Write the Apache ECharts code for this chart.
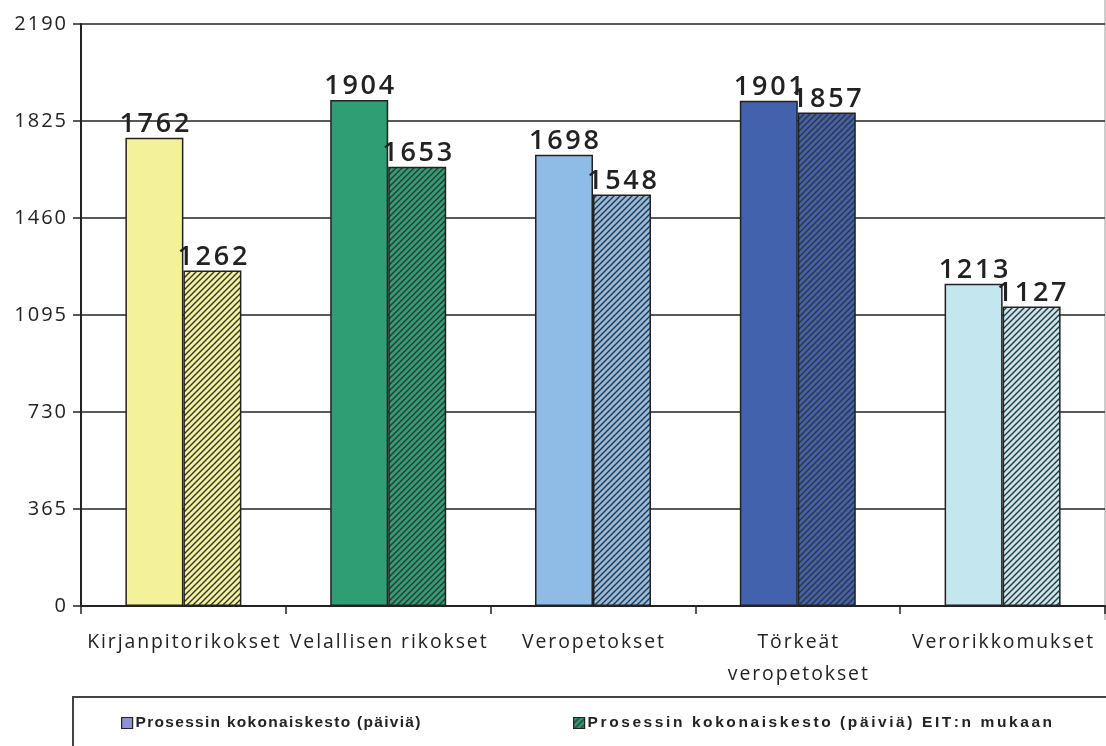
<!DOCTYPE html>
<html>
<head>
<meta charset="utf-8">
<script src="https://cdn.jsdelivr.net/npm/echarts@6/dist/echarts.min.js"></script>
<style>
  html, body { margin: 0; padding: 0; background: #ffffff; }
  #main { width: 1106px; height: 746px; }
</style>
</head>
<body>
<div id="main"></div>
<script>
// 数据
const categories = ['Kirjanpitorikokset', 'Velallisen rikokset', 'Veropetokset', 'Törkeät\nveropetokset', 'Verorikkomukset'];
const seriesNames = ['Prosessin kokonaiskesto (päiviä)', 'Prosessin kokonaiskesto (päiviä) EIT:n mukaan'];
const totalDays = [1762, 1904, 1698, 1901, 1213];
const eitDays = [1262, 1653, 1548, 1857, 1127];
const yMin = 0;
const yMax = 2190;
const yStep = 365;
const barColors = ['#f3f29a', '#2f9e74', '#8ebce6', '#4262ae', '#c4e6ef'];

// 斜线填充
const hatch = (base) => {
  const c = document.createElement('canvas');
  c.width = 6;
  c.height = 6;
  const ctx = c.getContext('2d');
  ctx.fillStyle = base;
  ctx.fillRect(0, 0, 6, 6);
  ctx.strokeStyle = '#333333';
  ctx.lineWidth = 1.4;
  ctx.beginPath();
  ctx.moveTo(-1, 7); ctx.lineTo(7, -1);
  ctx.moveTo(-1, 1); ctx.lineTo(1, -1);
  ctx.moveTo(5, 7); ctx.lineTo(7, 5);
  ctx.stroke();
  return { image: c, repeat: 'repeat' };
};

// 字间距
const spaced = (s, gap = '\u200a') => String(s).split('\n').map((line) => line.split('').join(gap)).join('\n');

const myChart = echarts.init(document.getElementById('main'));
const labelStyle = {
  show: true,
  position: 'top',
  distance: 0,
  fontFamily: 'Open Sans',
  fontSize: 27,
  fontWeight: 600,
  color: '#222222',
  formatter: (p) => spaced(p.value),
};
const borderStyle = { borderColor: '#222222', borderWidth: 1.5 };
const legendText = { fontFamily: 'Liberation Sans', fontSize: 15.5, fontWeight: 'bold', color: '#222222', padding: [0, 0, 0, -2] };

const options = {
  animation: false,
  grid: { left: 81, right: 1, top: 24, bottom: 140 },
  graphic: [
    {
      type: 'rect',
      shape: { x: 73, y: 697, width: 1100, height: 100 },
      style: { fill: 'none', stroke: '#444444', lineWidth: 2 },
    },
    {
      type: 'line',
      shape: { x1: 1105, y1: 0, x2: 1105, y2: 620 },
      style: { stroke: '#999999', lineWidth: 1 },
    },
  ],
  legend: [
    {
      data: [{ name: seriesNames[0], itemStyle: { color: '#9090d8', borderColor: '#222222', borderWidth: 1.2 } }],
      left: 121,
      top: 715,
      padding: 0,
      icon: 'rect',
      itemWidth: 11,
      itemHeight: 11,
      textStyle: legendText,
      formatter: (n) => spaced(n),
    },
    {
      data: [{ name: seriesNames[1], itemStyle: { color: hatch('#2f9e74'), borderColor: '#222222', borderWidth: 1.2 } }],
      left: 573,
      top: 715,
      padding: 0,
      icon: 'rect',
      itemWidth: 11,
      itemHeight: 11,
      textStyle: legendText,
      formatter: (n) => spaced(n, '\u200a\u200a'),
    },
  ],
  xAxis: {
    type: 'category',
    data: categories,
    axisLine: { lineStyle: { color: '#222222', width: 2 } },
    axisTick: { show: true, length: 8, lineStyle: { color: '#222222', width: 1.5 } },
    axisLabel: {
      fontFamily: 'Open Sans',
      fontSize: 19.4,
      color: '#222222',
      margin: 20,
      lineHeight: 32,
      interval: 0,
      formatter: (v) => spaced(v),
    },
  },
  yAxis: {
    type: 'value',
    min: yMin,
    max: yMax,
    interval: yStep,
    axisLine: { show: true, lineStyle: { color: '#222222', width: 2 } },
    axisTick: { show: true, length: 8, lineStyle: { color: '#222222', width: 1.5 } },
    splitLine: { show: true, lineStyle: { color: '#222222', width: 1.5 } },
    axisLabel: {
      fontFamily: 'Open Sans',
      fontSize: 20,
      color: '#222222',
      margin: 15,
      formatter: (v) => spaced(v),
    },
  },
  series: [
    {
      name: seriesNames[0],
      type: 'bar',
      barWidth: 58,
      barGap: '0%',
      data: totalDays.map((v, i) => ({ value: v, itemStyle: { color: barColors[i] } })),
      itemStyle: { color: '#9090d8', ...borderStyle },
      label: labelStyle,
    },
    {
      name: seriesNames[1],
      type: 'bar',
      barWidth: 58,
      barGap: '0%',
      data: eitDays.map((v, i) => ({ value: v, itemStyle: { color: hatch(barColors[i]) } })),
      itemStyle: { color: hatch('#2f9e74'), ...borderStyle },
      label: labelStyle,
    },
  ],
};
myChart.setOption(options);
window.onresize = function () {
  myChart.resize();
};
</script>
</body>
</html>
